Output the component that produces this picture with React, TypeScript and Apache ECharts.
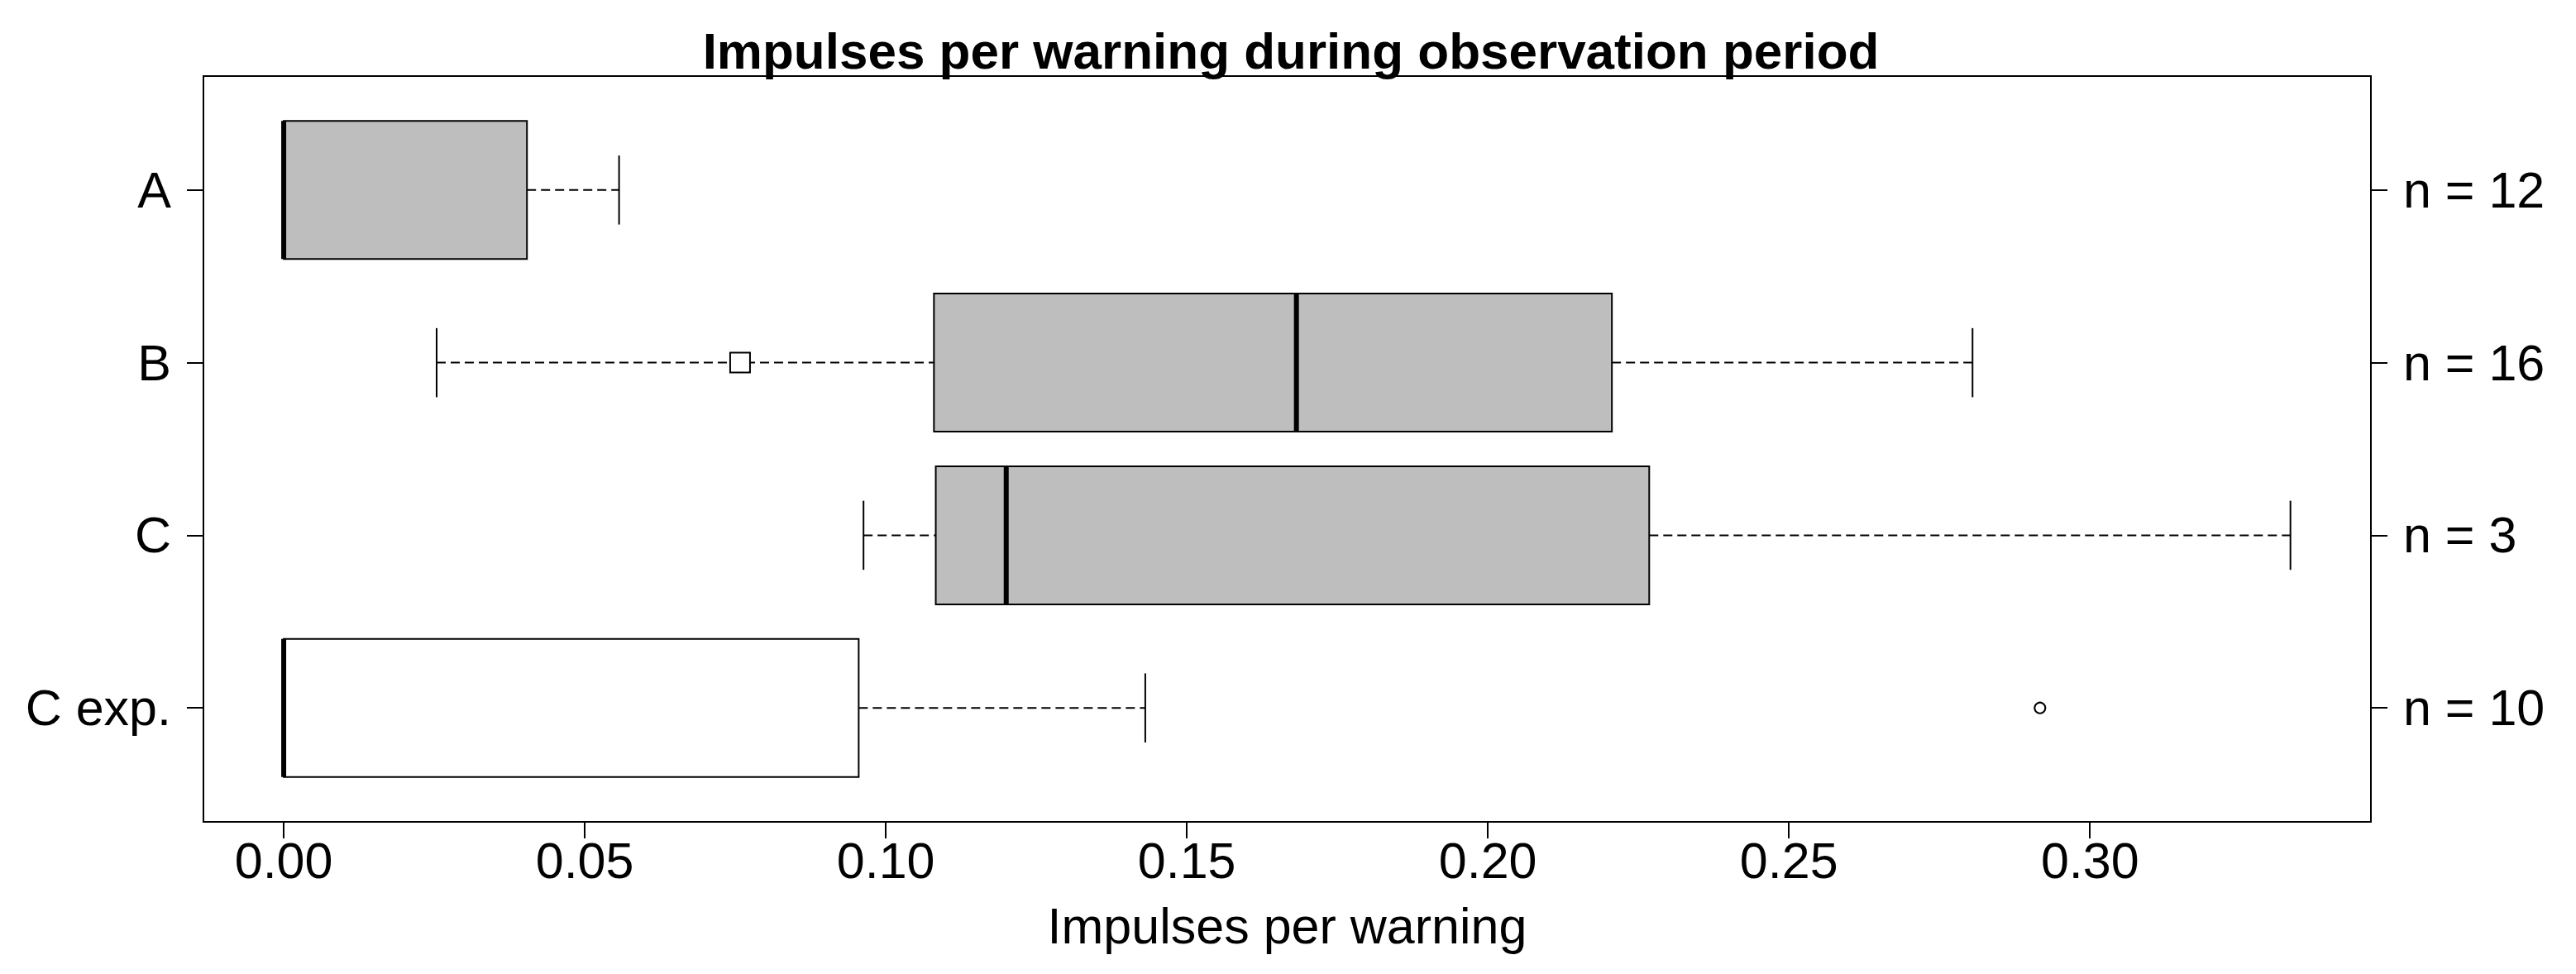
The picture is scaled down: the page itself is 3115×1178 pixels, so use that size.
import React, { useEffect, useRef } from "react";
import * as echarts from "echarts";

// ---- data ----
const categories = ["A", "B", "C", "C exp."];
const nLabels = ["n = 12", "n = 16", "n = 3", "n = 10"];
const whiskerLow = [0, 0.0254, 0.0963, 0];
const q1 = [0, 0.108, 0.1083, 0];
const median = [0, 0.1682, 0.12, 0];
const q3 = [0.0404, 0.2206, 0.2268, 0.0955];
const whiskerHigh = [0.0557, 0.2805, 0.3333, 0.1431];
const filled = [true, true, true, false];
const squareOutliers = [[0.0758, 2]];
const circleOutliers = [[0.2917, 4]];
const xTicks = [0, 0.05, 0.1, 0.15, 0.2, 0.25, 0.3];
const yPositions = [1, 2, 3, 4];

const FONT = "'Liberation Sans', Arial, sans-serif";
const GRAY = "#BEBEBE";

export default function App() {
  const ref = useRef<HTMLDivElement>(null);
  useEffect(() => {
    if (!ref.current) return;
    const chart = echarts.init(ref.current, null, { renderer: "svg" });
    const boxData = categories.map((_, i) => [
      yPositions[i],
      whiskerLow[i],
      q1[i],
      median[i],
      q3[i],
      whiskerHigh[i],
      filled[i] ? 1 : 0,
    ]);
    const yAxisBase = {
      type: "value",
      min: 0.34,
      max: 4.66,
      inverse: true,
      splitLine: { show: false },
      axisLine: { show: false, onZero: false },
      axisTick: {
        show: true,
        length: 20,
        lineStyle: { color: "#000", width: 2 },
        customValues: yPositions,
      },
    };
    const option: any = {
      animation: false,
      backgroundColor: "#fff",
      title: {
        text: "Impulses per warning during observation period",
        left: 1556,
        textAlign: "center",
        top: 25,
        textStyle: { fontFamily: FONT, fontSize: 62, fontWeight: "bold", color: "#000" },
      },
      grid: {
        left: 246,
        right: 248,
        top: 92,
        bottom: 184,
        show: true,
        borderColor: "#000",
        borderWidth: 2,
        backgroundColor: "transparent",
        containLabel: false,
        outerBoundsMode: "none",
      },
      xAxis: {
        type: "value",
        min: -0.0133333,
        max: 0.3466667,
        splitLine: { show: false },
        axisLine: { show: false, onZero: false },
        axisTick: {
          show: true,
          length: 20,
          lineStyle: { color: "#000", width: 2 },
          customValues: xTicks,
        },
        axisLabel: {
          customValues: xTicks,
          margin: 16,
          fontFamily: FONT,
          fontSize: 61,
          color: "#000",
          formatter: (v: number) => v.toFixed(2),
        },
        name: "Impulses per warning",
        nameLocation: "middle",
        nameGap: 95,
        nameTextStyle: { fontFamily: FONT, fontSize: 61, color: "#000" },
      },
      yAxis: [
        {
          ...yAxisBase,
          position: "left",
          axisLabel: {
            customValues: yPositions,
            margin: 39,
            fontFamily: FONT,
            fontSize: 61,
            color: "#000",
            formatter: (v: number) => categories[Math.round(v) - 1] ?? "",
          },
        },
        {
          ...yAxisBase,
          position: "right",
          axisLabel: {
            customValues: yPositions,
            margin: 39,
            fontFamily: FONT,
            fontSize: 61,
            color: "#000",
            formatter: (v: number) => nLabels[Math.round(v) - 1] ?? "",
          },
        },
      ],
      series: [
        {
          type: "custom",
          xAxisIndex: 0,
          yAxisIndex: 0,
          data: boxData,
          encode: { x: [1, 2, 3, 4, 5], y: 0 },
          renderItem: (params: any, api: any) => {
            const y = api.value(0);
            const lo = api.coord([api.value(1), y]);
            const a = api.coord([api.value(2), y]);
            const m = api.coord([api.value(3), y]);
            const b = api.coord([api.value(4), y]);
            const hi = api.coord([api.value(5), y]);
            const fill = api.value(6) ? GRAY : "#fff";
            const halfBox = Math.abs(api.size([0, 0.8])[1]) / 2;
            const halfCap = Math.abs(api.size([0, 0.4])[1]) / 2;
            const cy = a[1];
            const dash = { stroke: "#000", lineWidth: 2, lineDash: [11, 6] };
            const solid = { stroke: "#000", lineWidth: 2 };
            const children: any[] = [];
            if (b[0] < hi[0]) {
              children.push({
                type: "line",
                shape: { x1: b[0], y1: cy, x2: hi[0], y2: cy },
                style: dash,
              });
            }
            if (lo[0] < a[0]) {
              children.push({
                type: "line",
                shape: { x1: lo[0], y1: cy, x2: a[0], y2: cy },
                style: dash,
              });
            }
            children.push({
              type: "line",
              shape: { x1: hi[0], y1: cy - halfCap, x2: hi[0], y2: cy + halfCap },
              style: solid,
            });
            children.push({
              type: "line",
              shape: { x1: lo[0], y1: cy - halfCap, x2: lo[0], y2: cy + halfCap },
              style: solid,
            });
            children.push({
              type: "rect",
              shape: { x: a[0], y: cy - halfBox, width: b[0] - a[0], height: halfBox * 2 },
              style: { fill, stroke: "#000", lineWidth: 2 },
            });
            children.push({
              type: "line",
              shape: { x1: m[0], y1: cy - halfBox, x2: m[0], y2: cy + halfBox },
              style: { stroke: "#000", lineWidth: 6 },
            });
            return { type: "group", children };
          },
        },
        {
          type: "scatter",
          data: squareOutliers,
          symbol: "rect",
          symbolSize: 24,
          itemStyle: { color: "#fff", borderColor: "#000", borderWidth: 2, opacity: 1 },
          z: 5,
        },
        {
          type: "scatter",
          data: circleOutliers,
          symbol: "circle",
          symbolSize: 13,
          itemStyle: { color: "#fff", borderColor: "#000", borderWidth: 2, opacity: 1 },
          z: 5,
        },
      ],
    };
    chart.setOption(option);
    return () => chart.dispose();
  }, []);
  return (
    <div
      ref={ref}
      style={{ position: "fixed", left: 0, top: 0, width: 3115, height: 1178, background: "#fff" }}
    />
  );
}
